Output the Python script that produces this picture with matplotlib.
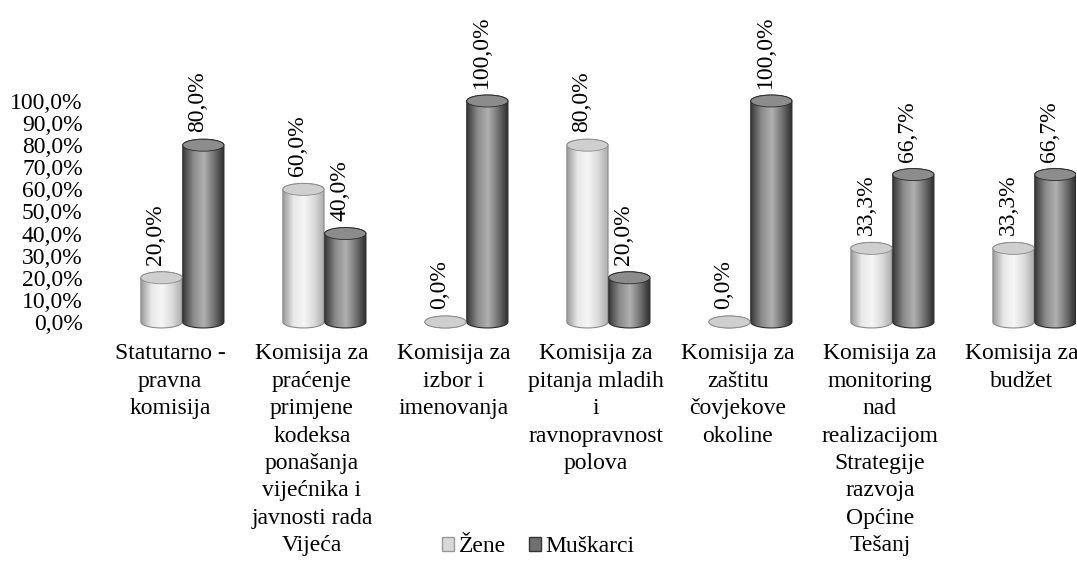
import numpy as np
import matplotlib
matplotlib.use('Agg')
import matplotlib.pyplot as plt
from matplotlib.patches import Polygon, Ellipse, Patch
from matplotlib.colors import LinearSegmentedColormap

plt.rcParams['font.family'] = ['Liberation Serif', 'DejaVu Serif']
plt.rcParams['font.size'] = 17

categories = [
    'Statutarno -\npravna\nkomisija',
    'Komisija za\npraćenje\nprimjene\nkodeksa\nponašanja\nvijećnika i\njavnosti rada\nVijeća',
    'Komisija za\nizbor i\nimenovanja',
    'Komisija za\npitanja mladih\ni\nravnopravnost\npolova',
    'Komisija za\nzaštitu\nčovjekove\nokoline',
    'Komisija za\nmonitoring\nnad\nrealizacijom\nStrategije\nrazvoja\nOpćine\nTešanj',
    'Komisija za\nbudžet',
]
zene = [20.0, 60.0, 0.0, 80.0, 0.0, 33.3, 33.3]
muskarci = [80.0, 40.0, 100.0, 20.0, 100.0, 66.7, 66.7]
series_names = ['Žene', 'Muškarci']

cmap_zene = LinearSegmentedColormap.from_list(
    'zene', ['#9a9a9a', '#e8e8e8', '#f6f6f6', '#dadada', '#a8a8a8'])
cmap_musk = LinearSegmentedColormap.from_list(
    'musk', ['#3a3a3a', '#8a8a8a', '#b0b0b0', '#707070', '#262626'])

fig = plt.figure(figsize=(10.77, 5.61), dpi=100)
ax = fig.add_axes([0.0787, 0.4103, 0.9203, 0.4569])

eh = 5.4   # ellipse height in data units
bw = 0.29


def cylinder(ax, xc, h, cmap, topcolor, edgecolor):
    x0, x1 = xc - bw / 2, xc + bw / 2
    t = np.linspace(0, np.pi, 60)
    bottom = np.column_stack([xc - np.cos(t) * bw / 2, -np.sin(t) * eh / 2])
    top = np.column_stack([xc + np.cos(t) * bw / 2, h + np.sin(t) * eh / 2])
    outline = Polygon(np.vstack([bottom, top]), closed=True,
                      facecolor='none', edgecolor=edgecolor, lw=0.8, zorder=3)
    ax.add_patch(outline)
    grad = np.linspace(0, 1, 256).reshape(1, -1)
    im = ax.imshow(grad, cmap=cmap, aspect='auto', interpolation='bilinear',
                   extent=[x0, x1, -eh / 2, h + eh / 2], zorder=2)
    im.set_clip_path(outline)
    ax.add_patch(Ellipse((xc, h), bw, eh, facecolor=topcolor,
                         edgecolor=edgecolor, lw=0.6, zorder=4))


x = np.arange(len(categories))
for i in x:
    cylinder(ax, i - 0.06, zene[i], cmap_zene, '#cfcfcf', '#8a8a8a')
    cylinder(ax, i + 0.235, muskarci[i], cmap_musk, '#8c8c8c', '#2a2a2a')
    for xc, v in [(i - 0.06, zene[i]), (i + 0.235, muskarci[i])]:
        ax.annotate(f'{v:.1f}%'.replace('.', ','), xy=(xc, v + eh / 2),
                    xytext=(-4, 5), textcoords='offset points',
                    rotation=90, ha='center', va='bottom', fontsize=17,
                    annotation_clip=False)

ax.set_xlim(-0.6, 6.38)
ax.set_ylim(-4, 112)
ax.set_yticks(range(0, 101, 10))
ax.set_yticklabels([f'{v},0%' for v in range(0, 101, 10)])
ax.set_xticks(x)
ax.set_xticklabels(categories, linespacing=1.4)
ax.tick_params(axis='both', length=0)
ax.tick_params(axis='y', pad=1.5)
ax.tick_params(axis='x', pad=9)
for s in ax.spines.values():
    s.set_visible(False)
ax.patch.set_visible(False)

handles = [Patch(facecolor='#d8d8d8', edgecolor='#999999'),
           Patch(facecolor='#707070', edgecolor='#333333')]
fig.legend(handles, series_names, loc='center', bbox_to_anchor=(0.5, 0.025),
           ncol=2, frameon=False, handlelength=0.5, handleheight=0.5,
           handletextpad=0.2, columnspacing=1.0, fontsize=17)

fig.savefig('out.png', dpi=100)
